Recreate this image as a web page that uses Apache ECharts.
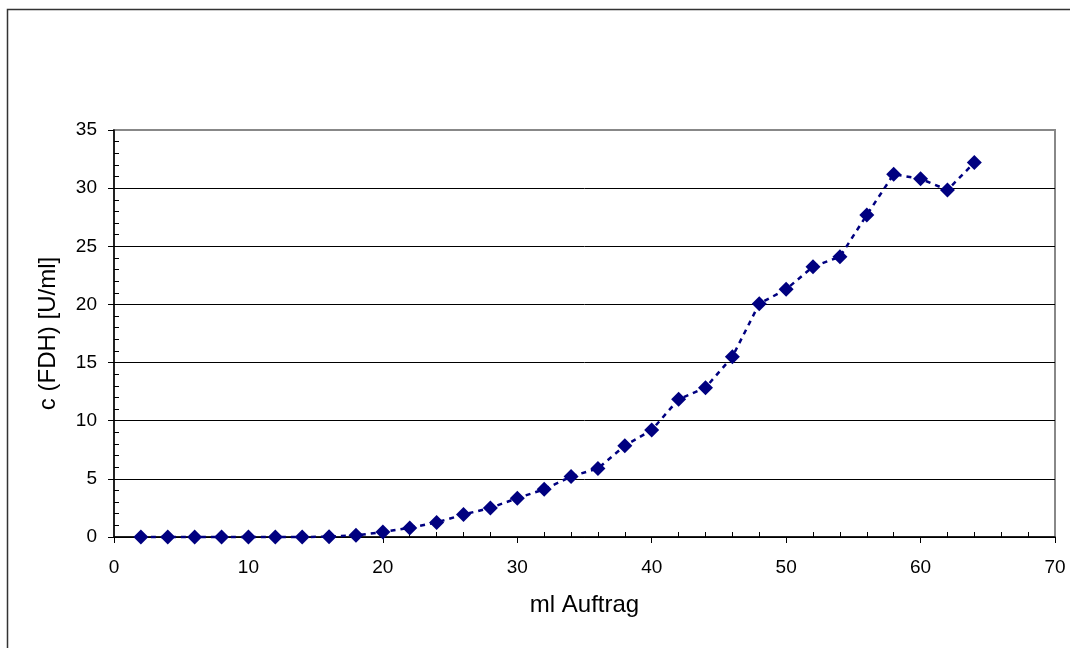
<!DOCTYPE html>
<html>
<head>
<meta charset="utf-8">
<script src="https://cdn.jsdelivr.net/npm/echarts@6/dist/echarts.min.js"></script>
<style>
  html, body { margin: 0; padding: 0; background: #fff; }
  #chart { width: 1070px; height: 648px; }
</style>
</head>
<body>
<div id="chart"></div>
<script>
// Applied volume (ml) and FDH concentration (U/ml)
const volumeMl = [2, 4, 6, 8, 10, 12, 14, 16, 18, 20, 22, 24, 26, 28, 30, 32,
                  34, 36, 38, 40, 42, 44, 46, 48, 50, 52, 54, 56, 58, 60, 62, 64];
const fdhActivity = [0, 0, 0, 0, 0, 0, 0, 0.03, 0.14, 0.43, 0.78, 1.25, 1.93, 2.5, 3.34, 4.1,
                     5.2, 5.9, 7.85, 9.2, 11.84, 12.84, 15.5, 20.06, 21.3, 23.25, 24.1, 27.7, 31.2, 30.8, 29.84, 32.2];
const xAxisTitle = 'ml Auftrag';
const yAxisTitle = 'c (FDH) [U/ml]';

const points = volumeMl.map((v, i) => [v, fdhActivity[i]]);
const font = 'Liberation Sans, Arial, sans-serif';

const chart = echarts.init(document.getElementById('chart'));
chart.setOption({
  animation: false,
  backgroundColor: '#fff',
  graphic: [{
    type: 'rect',
    shape: { x: 7.5, y: 9.5, width: 1200, height: 800 },
    style: { fill: 'none', stroke: '#333', lineWidth: 1.5 },
    silent: true,
    z: -1
  }],
  grid: {
    left: 114, top: 130, right: 15, bottom: 111,
    show: true, borderColor: '#888', borderWidth: 2, backgroundColor: 'transparent'
  },
  xAxis: {
    type: 'value', min: 0, max: 70, interval: 10,
    name: xAxisTitle, nameLocation: 'middle', nameGap: 56,
    nameTextStyle: { fontFamily: font, fontSize: 24, color: '#000' },
    axisLine: { lineStyle: { color: '#000', width: 1.5 } },
    axisTick: { show: true, inside: false, length: 6, lineStyle: { color: '#000' } },
    // minor ticks point into the plot, major ticks point outward
    minorTick: { show: true, splitNumber: 5, length: -5, lineStyle: { color: '#000' } },
    axisLabel: { fontFamily: font, fontSize: 19, color: '#000', margin: 21 },
    splitLine: { show: false }
  },
  yAxis: {
    type: 'value', min: 0, max: 35, interval: 5,
    name: yAxisTitle, nameLocation: 'middle', nameGap: 54, nameRotate: 90,
    nameTextStyle: { fontFamily: font, fontSize: 24, color: '#000' },
    axisLine: { show: true, lineStyle: { color: '#000', width: 1.5 } },
    axisTick: { show: true, inside: false, length: 6, lineStyle: { color: '#000' } },
    minorTick: { show: true, splitNumber: 5, length: -5, lineStyle: { color: '#000' } },
    axisLabel: { fontFamily: font, fontSize: 19, color: '#000', margin: 17 },
    splitLine: { show: true, showMaxLine: false, lineStyle: { color: '#000', width: 1 } }
  },
  series: [{
    type: 'line',
    data: points,
    symbol: 'diamond',
    symbolSize: 15,
    itemStyle: { color: '#000080' },
    lineStyle: { color: '#000080', width: 2.5, type: [5, 5] },
    clip: false
  }]
});
</script>
</body>
</html>
